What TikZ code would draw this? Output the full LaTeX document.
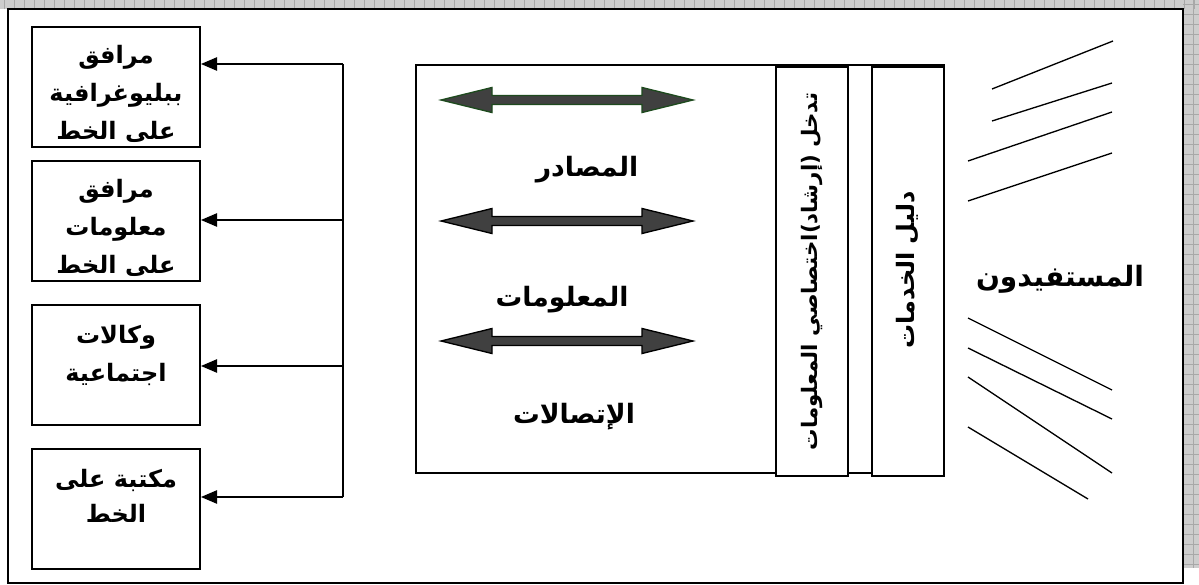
\documentclass[tikz,border=0pt]{standalone}
\usepackage{fontspec}
\usetikzlibrary{arrows.meta,calc}
\TeXXeTstate=1
\newfontfamily\arabicfont[Script=Arabic]{DejaVu Sans}
\definecolor{gridbg}{HTML}{CDCDCD}
\definecolor{gridln}{HTML}{A8A8A8}
\definecolor{arrfill}{HTML}{404040}
\definecolor{darkgreen}{HTML}{1E4A1E}
\tikzset{
  sidebox/.style={draw, line width=1.5pt, minimum width=126pt, minimum height=90pt, inner sep=0pt},
  boxtext/.style={font=\arabicfont\bfseries\fontsize{18}{28.5}\selectfont, align=center, inner sep=0pt, anchor=north},
  midtext/.style={font=\arabicfont\bfseries\fontsize{20}{24}\selectfont, inner sep=0pt},
  coltext/.style={font=\arabicfont\bfseries\fontsize{16}{19}\selectfont, inner sep=0pt, rotate=90},
  colbox/.style={draw, line width=1.2pt, fill=white, minimum width=54pt, minimum height=306.75pt, inner sep=0pt},
  conn/.style={line width=1pt},
  arr/.style={line width=1pt, -{Triangle[length=12pt,width=10pt]}},
  dblarrow/.style={fill=arrfill, line width=1pt, line join=miter},
  fan/.style={line width=1pt},
}
\begin{document}
\begin{tikzpicture}[x=0.75pt, y=-0.75pt]
\useasboundingbox (0,0) rectangle (1199,585);
% background grid
\fill[gridbg] (0,0) rectangle (1199,9);
\fill[gridbg] (1183,0) rectangle (1199,568);
\foreach \x in {4,14,...,1194} \draw[gridln, line width=0.4pt] (\x,0) -- (\x,9);
\foreach \y in {4,14,...,564} \draw[gridln, line width=0.4pt] (1183,\y) -- (1199,\y);
\draw[gridln, line width=0.4pt] (1193,0) -- (1193,568);
% outer frame
\draw[line width=1.5pt, fill=white] (8,9) rectangle (1183,583);

% left boxes
\node[sidebox] (b1) at (116,87) {};
\node[sidebox] (b2) at (116,221) {};
\node[sidebox] (b3) at (116,364.5) {};
\node[sidebox] (b4) at (116,508.5) {};
\begin{scope}
\clip ([shift={(1pt,-1pt)}]b1.south west) rectangle ([shift={(-1pt,1pt)}]b1.north east);
\node[boxtext] (t1) at ([yshift=-14.5pt]b1.north) {\beginR مرافق\endR\\\beginR ببليوغرافية\endR\\\beginR على الخط\endR};
\end{scope}
\begin{scope}
\clip ([shift={(1pt,-1pt)}]b2.south west) rectangle ([shift={(-1pt,1pt)}]b2.north east);
\node[boxtext] (t2) at ([yshift=-14.5pt]b2.north) {\beginR مرافق\endR\\\beginR معلومات\endR\\\beginR على الخط\endR};
\end{scope}
\node[boxtext] (t3) at ([yshift=-16pt]b3.north) {\beginR وكالات\endR\\\beginR اجتماعية\endR};
\node[boxtext, font=\arabicfont\bfseries\fontsize{18}{26}\selectfont] (t4) at ([yshift=-16pt]b4.north) {\beginR مكتبة على\endR\\\beginR الخط\endR};

% connectors
\coordinate (j1) at (343,64);
\coordinate (j2) at (343,220);
\coordinate (j3) at (343,366);
\coordinate (j4) at (343,497);
\draw[conn] (j1) -- (j4);
\draw[arr] (j1) -- (j1 -| b1.east);
\draw[arr] (j2) -- (j2 -| b2.east);
\draw[arr] (j3) -- (j3 -| b3.east);
\draw[arr] (j4) -- (j4 -| b4.east);

% middle box
\node[draw, line width=1.5pt, minimum width=396pt, minimum height=306pt, inner sep=0pt] (mid) at (680,269) {};
\foreach \cy/\col in {100/darkgreen, 221/black, 341/black}
  \draw[dblarrow, draw=\col] (441,\cy) -- (492,\cy-12.5) -- (492,\cy-4.5) -- (642,\cy-4.5) -- (642,\cy-12.5) -- (693,\cy) -- (642,\cy+12.5) -- (642,\cy+4.5) -- (492,\cy+4.5) -- (492,\cy+12.5) -- cycle;
\node[midtext] (m1) at (587,170) {\beginR المصادر\endR};
\node[midtext] (m2) at (562,300) {\beginR المعلومات\endR};
\node[midtext] (m3) at (574,417) {\beginR الإتصالات\endR};

% columns
\node[colbox] (c1) at (812,271.5) {};
\node[colbox] (c2) at (908,271.5) {};
\node[coltext] at (c1.center) {\beginR تدخل (إرشاد)اختصاصي المعلومات\endR};
\node[coltext, font=\arabicfont\bfseries\fontsize{18}{21}\selectfont] at ([yshift=1pt]c2.center) {\beginR دليل الخدمات\endR};

% users
\node[font=\arabicfont\bfseries\fontsize{21}{24}\selectfont, inner sep=0pt] (users) at (1060,279) {\beginR المستفيدون\endR};
\foreach \a/\b/\c/\d in {992/89/1113/41, 992/121/1112/83, 968/161/1112/112, 968/201/1112/153,
  968/318/1112/390, 968/348/1112/419, 968/377/1112/473, 968/427/1088/499}
  \draw[fan] (\a,\b) -- (\c,\d);
\end{tikzpicture}
\end{document}
